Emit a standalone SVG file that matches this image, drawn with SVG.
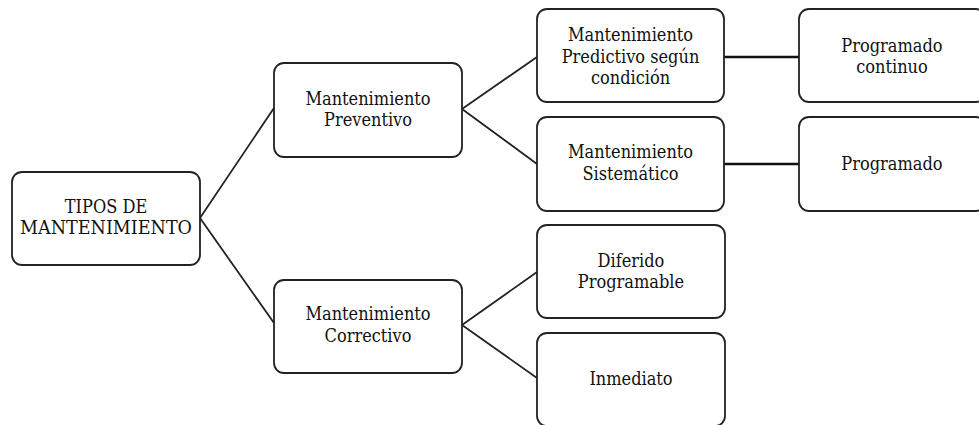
<svg xmlns="http://www.w3.org/2000/svg" width="979" height="425" viewBox="0 0 979 425">
<style>
.box{fill:#fff;stroke:#222;stroke-width:1.8}
.lbl{font-family:'DejaVu Serif Condensed','DejaVu Serif',serif;font-stretch:condensed;font-size:18px;fill:#111;text-anchor:middle}
.con{stroke:#222;stroke-width:1.8;fill:none}
.hcon{stroke:#111;stroke-width:2.6;fill:none}
</style>
<rect width="979" height="425" fill="#fff"/>
<g id="connectors">
<polyline class="con" points="274,108 200,218 274,323"/>
<polyline class="con" points="537,57 462,109 537,164"/>
<polyline class="con" points="537,272 462,325 537,378"/>
<line class="hcon" x1="724" y1="57" x2="799" y2="57"/>
<line class="hcon" x1="724" y1="164" x2="799" y2="164"/>
</g>
<g id="root">
<rect class="box" x="12" y="172" width="188" height="93" rx="10"/>
<text class="lbl" x="106" y="213">TIPOS DE</text>
<text class="lbl" x="106" y="234" textLength="172" lengthAdjust="spacingAndGlyphs">MANTENIMIENTO</text>
</g>
<g id="preventivo">
<rect class="box" x="274" y="63" width="188" height="94" rx="10"/>
<text class="lbl" x="368" y="105">Mantenimiento</text>
<text class="lbl" x="368" y="126">Preventivo</text>
</g>
<g id="correctivo">
<rect class="box" x="274" y="280" width="188" height="93" rx="10"/>
<text class="lbl" x="368" y="320">Mantenimiento</text>
<text class="lbl" x="368" y="342">Correctivo</text>
</g>
<g id="predictivo">
<rect class="box" x="537" y="9" width="187" height="93" rx="10"/>
<text class="lbl" x="630.5" y="41">Mantenimiento</text>
<text class="lbl" x="630.5" y="63">Predictivo según</text>
<text class="lbl" x="630.5" y="84">condición</text>
</g>
<g id="sistematico">
<rect class="box" x="537" y="117" width="187" height="94" rx="10"/>
<text class="lbl" x="630.5" y="158">Mantenimiento</text>
<text class="lbl" x="630.5" y="180">Sistemático</text>
</g>
<g id="diferido">
<rect class="box" x="537" y="225" width="188" height="93" rx="10"/>
<text class="lbl" x="631" y="267">Diferido</text>
<text class="lbl" x="631" y="288">Programable</text>
</g>
<g id="inmediato">
<rect class="box" x="537" y="333" width="188" height="93" rx="10"/>
<text class="lbl" x="631" y="385">Inmediato</text>
</g>
<g id="programado-continuo">
<rect class="box" x="799" y="9" width="187" height="93" rx="10"/>
<text class="lbl" x="892" y="52">Programado</text>
<text class="lbl" x="892" y="73">continuo</text>
</g>
<g id="programado">
<rect class="box" x="799" y="117" width="187" height="94" rx="10"/>
<text class="lbl" x="892" y="170">Programado</text>
</g>
</svg>
